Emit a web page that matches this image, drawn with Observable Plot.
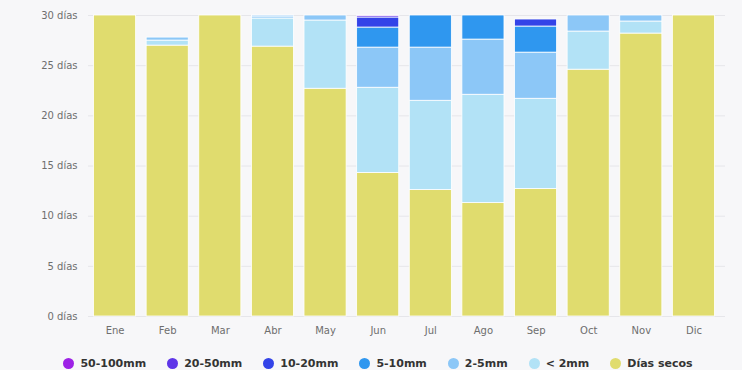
<!DOCTYPE html>
<html>
<head>
<meta charset="utf-8">
<script src="https://cdn.jsdelivr.net/npm/d3@7"></script>
<script src="https://cdn.jsdelivr.net/npm/@observablehq/plot@0.6"></script>
<style>
  body { margin: 0; background: #f7f7f9; font-family: "DejaVu Sans", sans-serif; }
  #chart { width: 742px; height: 370px; overflow: hidden; }
  .legend { display: flex; justify-content: center; height: 25px; align-items: center; padding-top: 6px; margin-left: 14px; }
  .item { display: flex; align-items: center; font-weight: bold; font-size: 11px; color: #333; margin: 0 10.5px; }
  .dot { width: 11px; height: 11px; border-radius: 50%; margin-right: 6px; }
</style>
</head>
<body>
<div id="chart"></div>
<script>
const months = ["Ene","Feb","Mar","Abr","May","Jun","Jul","Ago","Sep","Oct","Nov","Dic"];
const seriesNames = ["Días secos","< 2mm","2-5mm","5-10mm","10-20mm","20-50mm","50-100mm"];
const legendOrder = ["50-100mm","20-50mm","10-20mm","5-10mm","2-5mm","< 2mm","Días secos"];
const colors = {
  "50-100mm": "#9d21e6",
  "20-50mm": "#5e35e8",
  "10-20mm": "#3343e8",
  "5-10mm": "#2f97ef",
  "2-5mm": "#8cc7f7",
  "< 2mm": "#b2e2f6",
  "Días secos": "#e0dc6e"
};
const diasSecos = [30, 27.0, 30, 26.9, 22.7, 14.3, 12.6, 11.3, 12.7, 24.6, 28.2, 30];
const menos2mm  = [0, 0.5, 0, 2.8, 6.8, 8.5, 8.9, 10.8, 9.0, 3.8, 1.2, 0];
const mm2a5     = [0, 0.3, 0, 0.2, 0.5, 4.0, 5.3, 5.5, 4.6, 1.6, 0.6, 0];
const mm5a10    = [0, 0, 0, 0.1, 0, 2.0, 3.2, 2.4, 2.6, 0, 0, 0];
const mm10a20   = [0, 0, 0, 0, 0, 1.0, 0, 0, 0.7, 0, 0, 0];
const mm20a50   = [0, 0, 0, 0, 0, 0.15, 0, 0, 0, 0, 0, 0];
const mm50a100  = [0, 0, 0, 0, 0, 0.05, 0, 0, 0, 0, 0, 0];
const yTicks = [0, 5, 10, 15, 20, 25, 30];

const seriesValues = [diasSecos, menos2mm, mm2a5, mm5a10, mm10a20, mm20a50, mm50a100];
const data = [];
seriesNames.forEach((s, si) => {
  months.forEach((m, mi) => {
    data.push({month: m, series: s, value: seriesValues[si][mi]});
  });
});

const plot = Plot.plot({
  width: 742,
  height: 345,
  marginLeft: 83,
  marginRight: 17,
  marginTop: 15,
  marginBottom: 29,
  style: { background: "transparent", fontFamily: "DejaVu Sans, sans-serif", fontSize: "10px", color: "#6e6e6e" },
  x: { domain: months, padding: 0.2, round: false, label: null, tickSize: 0, tickPadding: 10 },
  y: { domain: [0, 30], ticks: yTicks, label: null, tickSize: 0, tickPadding: 6,
       tickFormat: d => `${d} días` },
  color: { domain: seriesNames, range: seriesNames.map(s => colors[s]) },
  marks: [
    Plot.ruleY(yTicks, { stroke: "#e6e6ea", strokeWidth: 1, insetLeft: 5 }),
    Plot.barY(data, Plot.stackY({
      x: "month", y: "value", fill: "series", order: seriesNames,
      stroke: "#ffffff", strokeWidth: 0.8
    }))
  ]
});
document.getElementById("chart").appendChild(plot);

const legend = document.createElement("div");
legend.className = "legend";
legendOrder.forEach(s => {
  const it = document.createElement("div");
  it.className = "item";
  const dot = document.createElement("span");
  dot.className = "dot";
  dot.style.background = colors[s];
  it.appendChild(dot);
  it.appendChild(document.createTextNode(s));
  legend.appendChild(it);
});
document.getElementById("chart").appendChild(legend);
</script>
</body>
</html>
